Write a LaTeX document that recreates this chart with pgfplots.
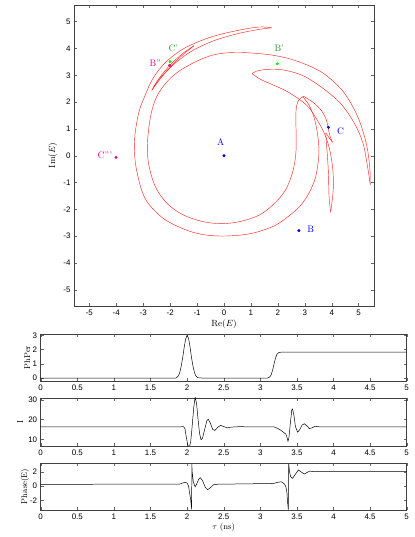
\documentclass[border=0pt]{standalone}
\usepackage{pgfplots}
\pgfplotsset{compat=1.18}
\usepackage{fontspec}
\newfontfamily\tickfont{Liberation Sans}

\definecolor{mygreen}{rgb}{0,1,0}
\definecolor{labgreen}{rgb}{0.15,0.6,0.15}

\pgfplotsset{
  every axis/.append style={
    scale only axis,
    tick align=inside,
    major tick length=3bp,
    axis line style={black!75, line width=0.5pt},
    every tick/.style={black!60, line width=0.4pt},
    ticklabel style={font=\tickfont\fontsize{8}{9}\selectfont},
    /pgf/number format/assume math mode=true,
  },
  curve/.style={red!85, line width=0.45pt, smooth, tension=0.55, no marks},
  ts/.style={black, line width=0.5pt, no marks},
}

\begin{document}
\begin{tikzpicture}
\useasboundingbox (0bp,0bp) rectangle (415bp,537bp);

% phase plane
\begin{axis}[
  at={(74bp,231bp)}, anchor=south west,
  width=300bp, height=301bp,
  xmin=-5.57, xmax=5.57, ymin=-5.6, ymax=5.62,
  xtick={-5,...,5}, ytick={-5,...,5},
  xlabel={Re$(E)$}, ylabel={Im$(E)$},
  label style={font=\fontsize{9}{10}\selectfont},
  x label style={at={(axis description cs:0.5,-0.06)}, anchor=center},
  y label style={at={(axis description cs:-0.07,0.5)}, anchor=center},
]
% outer ring and top arc
\addplot[curve] coordinates {(2.93,2.2) (3.19,1.83) (3.38,1.3) (3.5,0.6) (3.52,0.0) (3.4,-0.8) (3.15,-1.4) (2.81,-1.89) (2.3,-2.33) (1.81,-2.64) (1.0,-2.9) (0.1,-2.99) (-0.7,-2.95) (-1.45,-2.75) (-2.3,-2.3) (-2.95,-1.55) (-3.27,-0.4) (-3.32,0.6) (-3.17,1.59) (-2.95,2.2) (-2.63,2.9) (-2.15,3.5) (-1.45,4.02) (-0.5,4.42) (0.5,4.67) (1.3,4.8) (1.77,4.77)};
\addplot[curve] coordinates {(1.77,4.77) (1.3,4.71) (0.5,4.55) (-0.4,4.28) (-1.2,3.9) (-1.85,3.42) (-2.3,2.95) (-2.68,2.44)};
\addplot[curve] coordinates {(-2.68,2.44) (-2.4,2.9) (-2.0,3.38) (-1.55,3.8) (-1.12,4.1)};
\addplot[curve] coordinates {(-1.12,4.1) (-1.6,3.7) (-2.05,3.25) (-2.45,2.8) (-2.62,2.55)};
% inner ring
\addplot[curve] coordinates {(2.95,2.22) (2.74,2.01) (2.67,1.6) (2.68,0.6) (2.66,0.0) (2.55,-0.6) (2.3,-1.25) (1.9,-1.75) (1.33,-2.2) (0.6,-2.45) (-0.1,-2.53) (-0.8,-2.45) (-1.52,-2.2) (-2.12,-1.77) (-2.55,-1.15) (-2.8,-0.3) (-2.84,0.5) (-2.72,1.5) (-2.5,2.2) (-2.1,2.78) (-1.6,3.2) (-0.85,3.6) (-0.2,3.8) (0.6,3.85) (1.58,3.78) (2.3,3.65) (2.95,3.44) (3.68,3.08) (4.42,2.4) (4.96,1.47) (5.28,0.47) (5.41,-0.4) (5.43,-1.08)};
% inner right strand and tongue
\addplot[curve] coordinates {(5.43,-1.08) (5.33,-0.4) (5.16,0.47) (4.82,1.25) (4.3,1.98) (3.56,2.6) (2.9,3.0) (2.2,3.2) (1.6,3.22) (1.2,3.15) (1.05,3.06)};
\addplot[curve] coordinates {(1.05,3.06) (1.35,2.85) (1.8,2.65) (2.3,2.42) (2.8,2.1) (3.15,1.8) (3.45,1.35) (3.72,0.85) (3.92,0.25) (4.04,-0.5) (4.06,-1.2) (4.0,-1.8) (3.96,-2.1)};
\addplot[curve] coordinates {(3.96,-2.1) (3.9,-1.5) (3.88,-0.7) (3.84,0.0) (3.8,0.5) (3.78,0.85)};
\addplot[curve] coordinates {(3.78,0.85) (3.92,0.65) (4.03,0.5)};
\addplot[curve] coordinates {(4.03,0.5) (3.93,0.75) (3.87,1.03) (3.8,1.34) (3.62,1.68) (3.31,1.99) (2.95,2.22)};
% points
\addplot[only marks, mark=*, mark size=1.3pt, blue] coordinates {(0,0) (2.78,-2.79) (3.88,1.06)};
\addplot[only marks, mark=*, mark size=1.3pt, mygreen] coordinates {(1.98,3.43) (-2.0,3.51)};
\addplot[only marks, mark=*, mark size=1.3pt, magenta] coordinates {(-2.02,3.37) (-4.01,-0.06)};
\begin{scope}[font=\fontsize{9.5}{11}\selectfont]
\node[blue] at (axis cs:-0.12,0.52) {A};
\node[blue] at (axis cs:3.22,-2.74) {B};
\node[blue] at (axis cs:4.33,0.9) {C};
\node[labgreen] at (axis cs:2.05,4.0) {B'};
\node[labgreen] at (axis cs:-1.88,4.0) {C'};
\node[magenta] at (axis cs:-2.55,3.46) {B''};
\node[magenta] at (axis cs:-4.42,0.0) {C'''};
\end{scope}
\end{axis}

% PhPer
\begin{axis}[
  at={(40.7bp,156bp)}, anchor=south west,
  width=366bp, height=47bp,
  xmin=0, xmax=5, ymin=-0.2, ymax=3.1,
  xtick={0,0.5,...,5}, ytick={0,1,2,3},
  ylabel={PhPer},
  label style={font=\fontsize{8.5}{10}\selectfont},
  y label style={at={(axis description cs:-0.037,0.5)}, anchor=center},
]
\addplot[ts] coordinates {(0,0.01) (1.85,0.01) (1.88,0.15) (1.9,0.4) (1.92,0.85) (1.94,1.45) (1.96,2.15) (1.98,2.75) (2.0,3.0) (2.02,2.8) (2.04,2.2) (2.06,1.45) (2.08,0.85) (2.1,0.4) (2.12,0.15) (2.15,0.03) (2.2,0.01) (3.1,0.01) (3.13,0.08) (3.15,0.25) (3.17,0.6) (3.19,1.05) (3.21,1.45) (3.23,1.7) (3.25,1.79) (3.28,1.82) (5,1.82)};
\end{axis}

% I
\begin{axis}[
  at={(40.7bp,91bp)}, anchor=south west,
  width=366bp, height=48bp,
  xmin=0, xmax=5, ymin=6.6, ymax=31,
  xtick={0,0.5,...,5}, ytick={10,20,30},
  ylabel={I},
  label style={font=\fontsize{8.5}{10}\selectfont},
  y label style={at={(axis description cs:-0.056,0.5)}, anchor=center},
]
\addplot[ts] coordinates {(0,16.3) (1.9,16.3) (1.95,16.5) (1.97,15.5) (1.99,11) (2.01,7) (2.03,6) (2.05,9) (2.07,17) (2.09,26) (2.11,31.5) (2.13,28) (2.15,20) (2.17,13) (2.19,9.8) (2.21,10.5) (2.24,15) (2.27,19.5) (2.29,20.2) (2.32,18) (2.35,15) (2.38,14.5) (2.42,16.2) (2.46,17.1) (2.5,16.5) (2.55,15.8) (2.6,16.2) (2.7,16.4) (3.19,16.3) (3.24,15.5) (3.28,14.6) (3.32,13.5) (3.35,12.6) (3.365,11) (3.378,9) (3.39,10.5) (3.41,18) (3.43,25) (3.44,25.4) (3.46,22) (3.48,16.5) (3.51,13.6) (3.54,15) (3.57,17.2) (3.6,17.9) (3.64,16.8) (3.67,15.4) (3.71,15.9) (3.75,16.6) (3.82,16.3) (5,16.3)};
\end{axis}

% Phase
\begin{axis}[
  at={(40.7bp,27bp)}, anchor=south west,
  width=366bp, height=47bp,
  xmin=0, xmax=5, ymin=-3.38, ymax=3.28,
  xtick={0,0.5,...,5}, ytick={-2,0,2},
  xlabel={$\tau$ (ns)}, ylabel={Phase(E)},
  label style={font=\fontsize{8.5}{10}\selectfont},
  x label style={at={(axis description cs:0.5,-0.38)}, anchor=center},
  y label style={at={(axis description cs:-0.043,0.5)}, anchor=center},
]
\addplot[ts] coordinates {(0,0.25) (1.9,0.3) (1.94,0.45) (1.97,0.55) (2.0,0.45) (2.02,0.0) (2.035,-1.0) (2.05,-2.0) (2.063,-3.3) (2.064,3.14) (2.07,2.0) (2.085,0.6) (2.11,-0.1) (2.13,0.3) (2.16,1.0) (2.18,1.2) (2.21,0.8) (2.25,-0.2) (2.28,-0.5) (2.31,-0.3) (2.36,0.2) (2.42,0.27) (3.18,0.38) (3.24,0.55) (3.29,0.62) (3.33,0.3) (3.35,-0.1) (3.365,-1.0) (3.37,-2.0) (3.383,-3.33) (3.388,3.14) (3.4,2.0) (3.415,1.33) (3.44,1.1) (3.48,1.7) (3.52,2.29) (3.56,2.0) (3.6,1.71) (3.64,1.95) (3.68,2.14) (3.72,2.05) (3.77,2.05) (5,2.05)};
\end{axis}
\end{tikzpicture}
\end{document}
